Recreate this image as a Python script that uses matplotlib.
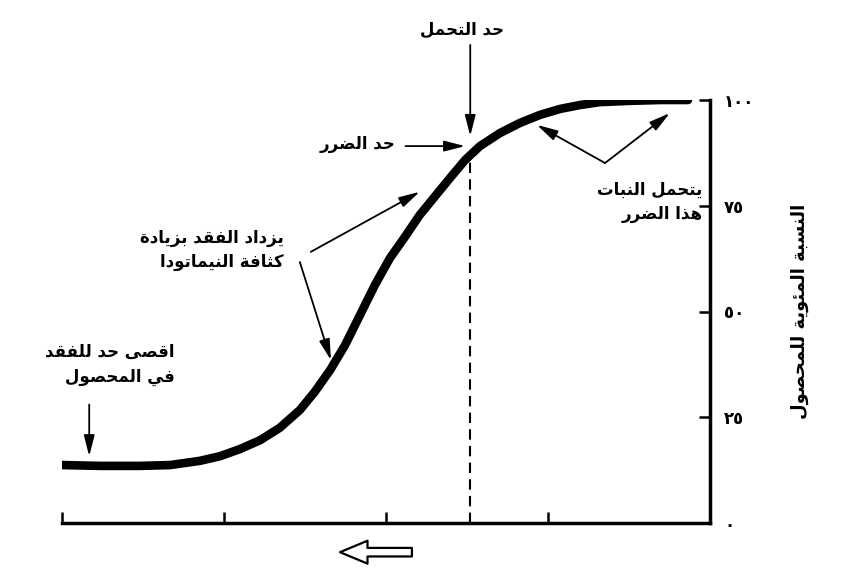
import matplotlib
matplotlib.use("Agg")
import matplotlib.pyplot as plt

# yield curve (x = nematode density, arbitrary units; y = % yield)
density = [0, 5.9, 12.0, 16.7, 21.3, 24.4, 27.5, 30.6, 33.6, 36.7, 39.0, 41.4, 43.7, 46.0, 48.3, 50.6,
           52.9, 55.2, 57.6, 59.9, 62.2, 64.5, 67.6, 70.7, 73.8, 76.9, 79.9, 83.0, 87.7, 92.3, 96.6]
yield_pct = [13.7, 13.5, 13.5, 13.7, 14.7, 15.8, 17.5, 19.6, 22.5, 26.7, 31.0, 36.2, 42.1, 49.2, 56.3, 62.6,
             67.6, 72.8, 77.3, 81.6, 85.8, 89.1, 92.2, 94.6, 96.5, 97.9, 98.8, 99.5, 99.8, 100, 100]

tolerance_x = 63
tolerance_y = 87.5

ytick_vals = [0, 25, 50, 75, 100]
ytick_labels = ['٠', '٢٥', '٥٠', '٧٥', '١٠٠']
xtick_vals = [0, 25, 50, 75]

ylabel = 'النسبة المئوية للمحصول'
txt_tolerance = 'حد التحمل'
txt_damage = 'حد الضرر'
txt_plant = ['يتحمل النبات', 'هذا الضرر']
txt_loss = ['يزداد الفقد بزيادة', 'كثافة النيماتودا']
txt_max = ['اقصى حد للفقد', 'في المحصول']

# minimal arabic shaping: (isolated, final, initial, medial)
FORMS = {
    'ا': ('\uFE8D', '\uFE8E', None, None),
    'ب': ('\uFE8F', '\uFE90', '\uFE91', '\uFE92'),
    'ة': ('\uFE93', '\uFE94', None, None),
    'ت': ('\uFE95', '\uFE96', '\uFE97', '\uFE98'),
    'ث': ('\uFE99', '\uFE9A', '\uFE9B', '\uFE9C'),
    'ح': ('\uFEA1', '\uFEA2', '\uFEA3', '\uFEA4'),
    'د': ('\uFEA9', '\uFEAA', None, None),
    'ذ': ('\uFEAB', '\uFEAC', None, None),
    'ر': ('\uFEAD', '\uFEAE', None, None),
    'ز': ('\uFEAF', '\uFEB0', None, None),
    'س': ('\uFEB1', '\uFEB2', '\uFEB3', '\uFEB4'),
    'ص': ('\uFEB9', '\uFEBA', '\uFEBB', '\uFEBC'),
    'ض': ('\uFEBD', '\uFEBE', '\uFEBF', '\uFEC0'),
    'ف': ('\uFED1', '\uFED2', '\uFED3', '\uFED4'),
    'ق': ('\uFED5', '\uFED6', '\uFED7', '\uFED8'),
    'ك': ('\uFED9', '\uFEDA', '\uFEDB', '\uFEDC'),
    'ل': ('\uFEDD', '\uFEDE', '\uFEDF', '\uFEE0'),
    'م': ('\uFEE1', '\uFEE2', '\uFEE3', '\uFEE4'),
    'ن': ('\uFEE5', '\uFEE6', '\uFEE7', '\uFEE8'),
    'ه': ('\uFEE9', '\uFEEA', '\uFEEB', '\uFEEC'),
    'و': ('\uFEED', '\uFEEE', None, None),
    'ى': ('\uFEEF', '\uFEF0', None, None),
    'ي': ('\uFEF1', '\uFEF2', '\uFEF3', '\uFEF4'),
    'ئ': ('\uFE89', '\uFE8A', '\uFE8B', '\uFE8C'),
}


def shape(text):
    out = []
    for i, c in enumerate(text):
        if c not in FORMS:
            out.append(c)
            continue
        prev = text[i - 1] if i > 0 else None
        nxt = text[i + 1] if i + 1 < len(text) else None
        jp = prev in FORMS and FORMS[prev][2] is not None
        jn = FORMS[c][2] is not None and nxt in FORMS
        iso, fin, ini, med = FORMS[c]
        if jp and jn:
            out.append(med)
        elif jp:
            out.append(fin)
        elif jn:
            out.append(ini)
        else:
            out.append(iso)
    return ''.join(out)[::-1]


def block(lines):
    return '\n'.join(shape(l) for l in lines)


plt.rcParams['font.family'] = ['DejaVu Sans']
plt.rcParams['font.weight'] = 'bold'

fig = plt.figure(figsize=(8.42, 5.88), dpi=100)
ax = fig.add_axes([62 / 842, 1 - 523 / 588, 648 / 842, 423 / 588])

ax.plot(density, yield_pct, color='black', lw=6.2, solid_capstyle='round', solid_joinstyle='round')
ax.plot([tolerance_x, tolerance_x], [0, tolerance_y], color='black', lw=1.5, ls=(0, (5, 3)))

ax.set_xlim(0, 100)
ax.set_ylim(0, 100)
for s in ['top', 'left']:
    ax.spines[s].set_visible(False)
for s in ['bottom', 'right']:
    ax.spines[s].set_linewidth(2.5)

ax.set_xticks(xtick_vals)
ax.set_xticklabels([])
ax.tick_params(axis='x', direction='in', length=8, width=1.8)
ax.yaxis.tick_right()
ax.yaxis.set_label_position('right')
ax.set_yticks(ytick_vals)
ax.set_yticklabels(ytick_labels, fontsize=12, fontweight='bold')
ax.tick_params(axis='y', direction='in', length=8, width=1.8, pad=10)
ax.set_ylabel(shape(ylabel), rotation=90, fontsize=13, fontweight='bold', labelpad=26)

arrow = dict(arrowstyle='-|>,head_length=0.7,head_width=0.18', color='black', lw=1.3, mutation_scale=18,
             shrinkA=0, shrinkB=0)
kw = dict(annotation_clip=False)
tkw = dict(fontsize=12, fontweight='bold')

# tolerance limit
ax.text(61.7, 116.5, shape(txt_tolerance), ha='center', va='center', **tkw)
ax.annotate('', xy=(tolerance_x, 91.5), xytext=(tolerance_x, 113), arrowprops=arrow, **kw)
# damage limit
ax.text(51.4, 89.5, shape(txt_damage), ha='right', va='center', **tkw)
ax.annotate('', xy=(62.2, 89.1), xytext=(53, 89.1), arrowprops=arrow, **kw)
# plant tolerates
ax.text(98.8, 76, block(txt_plant), ha='right', va='center', multialignment='right',
        linespacing=1.45, **tkw)
for tip in [(73.3, 94.1), (93.8, 96.9)]:
    ax.annotate('', xy=tip, xytext=(83.8, 85.1), arrowprops=arrow, **kw)
# loss increases
ax.text(34.2, 64.5, block(txt_loss), ha='right', va='center', multialignment='right',
        linespacing=1.45, **tkw)
ax.annotate('', xy=(55.2, 78.3), xytext=(38.4, 64.1), arrowprops=arrow, **kw)
ax.annotate('', xy=(41.5, 38.5), xytext=(36.7, 61.7), arrowprops=arrow, **kw)
# maximum loss
ax.text(17.4, 37.5, block(txt_max), ha='right', va='center', multialignment='right',
        linespacing=1.5, **tkw)
ax.annotate('', xy=(4.2, 15.8), xytext=(4.2, 28), arrowprops=arrow, **kw)

# hollow direction arrow under the x axis
ax.annotate('', xy=(42.9, -6.9), xytext=(54.0, -6.9), annotation_clip=False,
            arrowprops=dict(arrowstyle='simple,head_length=0.9,head_width=0.75,tail_width=0.28',
                            fc='white', ec='black', lw=1.6, mutation_scale=22, shrinkA=0, shrinkB=0))

fig.savefig('out.png', dpi=100)
